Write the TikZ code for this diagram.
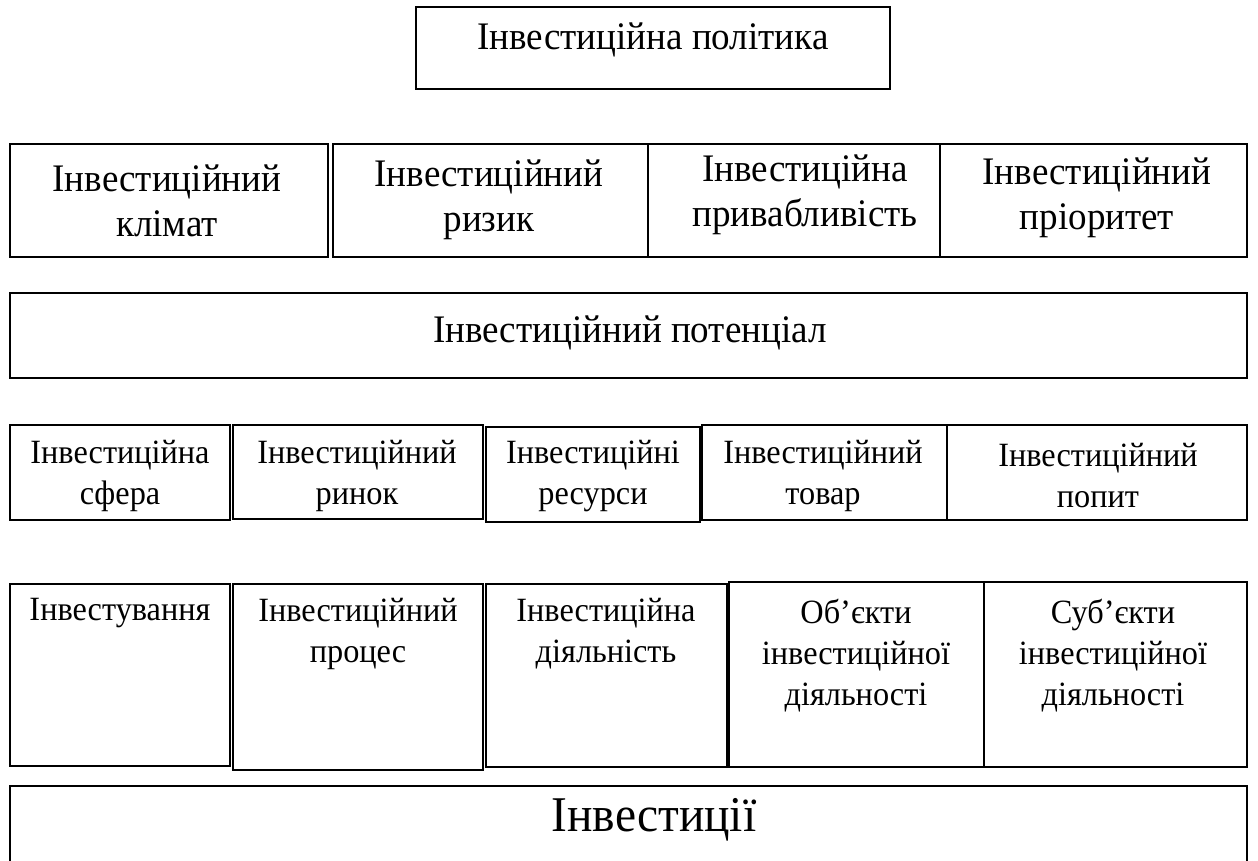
\documentclass[tikz,border=0pt]{standalone}
\usepackage{fontspec}
\setmainfont[FakeStretch=0.95]{Liberation Serif}

\tikzset{
	lbl/.style={align=center, inner sep=0pt},
	big/.style={lbl, font=\fontsize{19.5}{22.5}\selectfont},
	small/.style={lbl, font=\fontsize{17}{20.5}\selectfont},
	huge/.style={lbl, font=\fontsize{25}{28}\selectfont}
}

\begin{document}
\begin{tikzpicture}[x=0.5pt, y=-0.5pt, line width=0.7pt]
	\useasboundingbox (0, 0) rectangle (1258, 861);
	
	% Верхній блок
	\draw (416, 7) rectangle (890, 89);
	\node[big] (polityka) at (653, 40) {Інвестиційна політика};
	
	% Перший ряд
	\draw (10, 144) rectangle (328, 257);
	\draw (333, 144) rectangle (648, 257);
	\draw (648, 144) rectangle (940, 257);
	\draw (940, 144) rectangle (1247, 257);
	\node[big, anchor=north] (klimat) at (167, 164) {Інвестиційний\\клімат};
	\node[big, anchor=north] (ryzyk) at (489, 159) {Інвестиційний\\ризик};
	\node[big, anchor=north] (pryvablyvist) at (805, 154) {Інвестиційна\\привабливість};
	\node[big, anchor=north] (priorytet) at (1097, 157) {Інвестиційний\\пріоритет};
	
	% Потенціал
	\draw (10, 293) rectangle (1247, 378);
	\node[big] (potentsial) at (630, 333) {Інвестиційний потенціал};
	
	% Другий ряд
	\draw (10, 425) rectangle (230, 520);
	\draw (233, 425) rectangle (483, 519);
	\draw (486, 427) rectangle (700, 522);
	\draw (702, 425) rectangle (947, 520);
	\draw (947, 425) rectangle (1247, 520);
	\node[small] (sfera) at (120, 476) {Інвестиційна\\сфера};
	\node[small] (rynok) at (357, 476) {Інвестиційний\\ринок};
	\node[small] (resursy) at (593, 476) {Інвестиційні\\ресурси};
	\node[small] (tovar) at (823, 476) {Інвестиційний\\товар};
	\node[small] (popyt) at (1098, 476) {Інвестиційний\\попит};
	
	% Третій ряд
	\draw (10, 584) rectangle (230, 766);
	\draw (233, 584) rectangle (483, 770);
	\draw (486, 584) rectangle (727, 767);
	\draw (729, 582) rectangle (984, 767);
	\draw (984, 582) rectangle (1247, 767);
	\node[small, anchor=north] (investuvannia) at (120, 598) {Інвестування};
	\node[small, anchor=north] (protses) at (358, 598) {Інвестиційний\\процес};
	\node[small, anchor=north] (diialnist) at (606, 598) {Інвестиційна\\діяльність};
	\node[small, anchor=north] (obiekty) at (856, 598) {Об’єкти\\інвестиційної\\діяльності};
	\node[small, anchor=north] (subiekty) at (1113, 598) {Суб’єкти\\інвестиційної\\діяльності};
	
	% Нижній блок
	\draw (10, 786) rectangle (1247, 900);
	\node[huge] (investytsii) at (654, 820) {Інвестиції};
\end{tikzpicture}
\end{document}
